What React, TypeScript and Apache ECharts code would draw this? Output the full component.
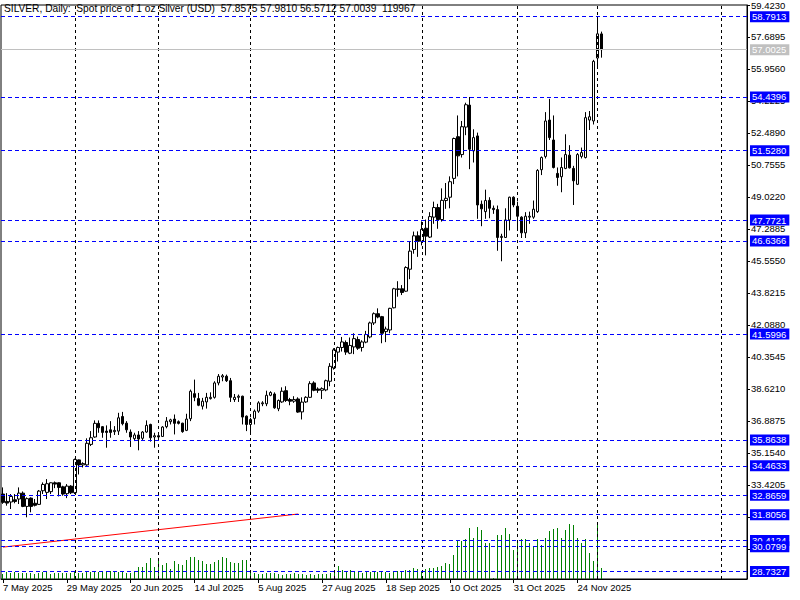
import React, { useEffect, useRef } from 'react';
import * as echarts from 'echarts';

const FONT = '"Liberation Sans", Arial, sans-serif';
const FS = 9.5;

// Daily OHLC (bars from 7 May 2025 to 2 Dec 2025)
const opens = [
  32.93, 32.53, 32.50, 32.62, 32.66, 32.98, 32.26, 32.71, 32.43, 32.37,
  33.11, 33.02, 33.06, 33.54, 33.54, 33.32, 32.95, 33.36, 33.00, 34.78,
  34.51, 34.51, 35.62, 36.02, 36.76, 36.58, 36.34, 36.41, 36.31, 36.34,
  37.13, 36.77, 36.29, 35.93, 36.13, 35.95, 36.29, 36.70, 36.02, 36.09,
  36.05, 36.58, 36.85, 36.99, 36.85, 36.77, 36.38, 37.01, 38.37, 38.10,
  37.69, 37.92, 38.10, 38.17, 38.95, 39.27, 39.31, 39.07, 38.05, 38.17,
  38.23, 37.15, 36.70, 37.03, 37.42, 37.82, 37.82, 38.28, 38.35, 37.55,
  37.92, 38.53, 38.05, 37.96, 38.08, 37.38, 37.92, 38.17, 38.95, 38.62,
  38.55, 38.57, 39.04, 39.76, 40.62, 40.87, 41.14, 40.56, 40.90, 41.30,
  40.87, 41.16, 41.44, 42.20, 42.70, 42.54, 41.73, 41.82, 43.02, 44.01,
  44.05, 43.92, 45.11, 46.18, 46.92, 46.62, 47.33, 46.85, 47.93, 48.45,
  47.80, 48.83, 49.01, 50.03, 52.29, 51.32, 52.81, 54.00, 51.52, 52.33,
  48.63, 48.23, 48.84, 48.41, 48.34, 46.83, 46.83, 47.78, 49.01, 48.52,
  47.93, 47.08, 47.93, 47.93, 48.23, 50.50, 51.22, 53.19, 52.11, 50.30,
  50.12, 50.57, 51.29, 50.57, 49.71, 51.22, 51.16, 53.19, 53.14, 56.55,
  57.8575,
];
const highs = [
  33.29, 32.98, 32.93, 32.93, 33.29, 33.07, 32.75, 32.75, 32.66, 33.15,
  33.56, 33.74, 33.56, 33.61, 33.56, 33.38, 33.47, 33.41, 34.85, 34.80,
  34.65, 35.95, 36.34, 36.92, 36.92, 36.61, 36.65, 36.88, 36.61, 37.33,
  37.38, 36.88, 36.43, 36.25, 36.34, 36.34, 36.92, 36.74, 36.25, 36.25,
  36.61, 37.10, 37.01, 37.24, 36.92, 36.79, 37.28, 38.59, 39.13, 38.41,
  38.14, 38.41, 38.44, 39.04, 39.43, 39.43, 39.40, 39.22, 38.35, 38.32,
  38.26, 37.19, 37.06, 37.51, 37.96, 37.96, 38.53, 38.50, 38.44, 38.05,
  38.71, 38.77, 38.14, 38.23, 38.17, 38.17, 38.23, 39.04, 39.04, 38.71,
  38.71, 39.13, 40.02, 40.83, 40.92, 41.44, 41.25, 41.41, 41.64, 41.46,
  41.26, 41.77, 42.27, 42.77, 42.99, 42.58, 42.00, 43.02, 44.10, 44.46,
  44.25, 45.27, 46.60, 47.15, 47.16, 47.70, 47.80, 48.20, 48.77, 48.65,
  49.49, 49.78, 50.14, 52.24, 53.44, 53.14, 54.13, 54.44, 52.69, 52.51,
  48.83, 49.42, 49.01, 48.56, 48.56, 47.03, 48.41, 49.04, 49.06, 48.77,
  47.98, 48.20, 48.23, 48.83, 50.53, 51.22, 53.62, 54.34, 53.44, 50.62,
  51.16, 52.42, 51.83, 50.71, 51.40, 51.70, 53.62, 53.68, 56.45, 58.82,
  57.9810,
];
const lows = [
  32.40, 32.30, 32.12, 32.43, 32.39, 32.22, 31.67, 31.94, 32.26, 32.35,
  32.93, 32.66, 32.93, 33.25, 32.80, 32.84, 32.71, 32.93, 32.93, 33.99,
  34.37, 34.46, 35.53, 35.98, 36.25, 35.98, 35.44, 35.98, 36.13, 36.13,
  36.65, 36.25, 35.48, 35.80, 35.30, 35.86, 36.25, 35.77, 35.44, 35.84,
  36.02, 36.49, 36.70, 36.16, 36.70, 36.25, 36.34, 36.88, 37.96, 37.69,
  37.51, 37.56, 38.05, 38.10, 38.82, 39.04, 39.00, 37.92, 37.92, 37.92,
  36.70, 36.34, 36.20, 36.70, 37.33, 37.69, 37.69, 38.23, 37.55, 37.42,
  37.87, 37.92, 37.74, 37.87, 37.33, 36.97, 37.87, 38.14, 38.50, 38.41,
  38.08, 38.50, 38.77, 39.67, 40.11, 40.65, 40.47, 40.51, 40.51, 40.74,
  40.65, 41.10, 41.37, 42.09, 42.45, 41.10, 41.16, 41.64, 42.99, 43.62,
  43.71, 43.89, 44.57, 45.95, 45.78, 46.40, 45.86, 46.80, 47.57, 47.30,
  47.69, 48.38, 48.41, 49.72, 50.14, 51.16, 52.37, 50.53, 50.89, 47.84,
  47.44, 47.84, 47.87, 48.11, 46.11, 45.54, 46.80, 47.21, 48.47, 47.21,
  46.80, 46.80, 47.57, 47.84, 48.16, 50.21, 51.11, 52.11, 50.57, 49.63,
  49.28, 50.53, 50.57, 48.59, 49.67, 51.11, 51.11, 52.65, 52.95, 56.10,
  56.5712,
];
const closes = [
  32.48, 32.44, 32.80, 32.53, 32.98, 32.26, 32.68, 32.26, 32.32, 33.09,
  33.45, 33.49, 33.54, 33.47, 33.29, 32.93, 33.36, 33.00, 34.80, 34.51,
  34.58, 35.68, 35.98, 36.76, 36.52, 36.27, 36.27, 36.27, 36.38, 37.06,
  36.74, 36.41, 36.02, 36.13, 35.91, 36.29, 36.65, 35.98, 36.09, 36.02,
  36.56, 36.88, 36.95, 36.76, 36.76, 36.31, 36.99, 38.50, 38.17, 37.74,
  37.96, 38.17, 38.17, 38.95, 39.31, 39.34, 39.07, 38.17, 38.17, 38.23,
  37.10, 36.70, 36.97, 37.42, 37.87, 37.87, 38.28, 38.43, 37.60, 38.00,
  38.50, 38.00, 37.96, 38.05, 37.37, 37.91, 38.17, 38.91, 38.55, 38.55,
  38.64, 39.07, 39.85, 40.74, 40.87, 41.17, 40.62, 40.98, 41.35, 40.83,
  41.17, 41.57, 42.20, 42.70, 42.52, 41.64, 41.87, 42.99, 44.05, 44.05,
  43.85, 45.20, 46.09, 46.92, 46.62, 47.27, 46.90, 47.96, 48.45, 47.80,
  48.84, 48.95, 49.85, 52.19, 51.25, 52.83, 54.02, 51.61, 52.24, 48.59,
  48.38, 48.83, 48.41, 48.34, 46.83, 46.89, 47.78, 49.01, 48.59, 47.98,
  47.08, 47.98, 47.98, 48.36, 50.46, 51.16, 53.14, 52.24, 50.62, 50.08,
  50.62, 51.32, 50.60, 49.90, 51.32, 51.43, 53.32, 53.37, 56.37, 57.86,
  57.0039,
];
// Tick volume
const volumes = [
  56000, 82000, 71000, 82000, 64000, 71000, 64000, 71000, 56000, 71000,
  82000, 93000, 56000, 64000, 64000, 71000, 71000, 71000, 82000, 71000,
  71000, 93000, 82000, 82000, 82000, 93000, 82000, 93000, 82000, 82000,
  82000, 64000, 64000, 93000, 131000, 138000, 183000, 232000, 138000, 213000,
  157000, 183000, 109000, 202000, 168000, 157000, 213000, 243000, 250000, 213000,
  202000, 168000, 168000, 194000, 213000, 250000, 232000, 194000, 183000, 176000,
  213000, 213000, 101000, 64000, 56000, 56000, 64000, 71000, 64000, 56000,
  45000, 56000, 56000, 64000, 56000, 56000, 48000, 56000, 45000, 56000,
  56000, 59000, 71000, 82000, 146000, 101000, 93000, 97000, 90000, 93000,
  71000, 78000, 82000, 75000, 82000, 90000, 78000, 67000, 82000, 90000,
  90000, 97000, 101000, 120000, 109000, 82000, 109000, 123000, 120000, 131000,
  146000, 183000, 168000, 269000, 429000, 429000, 445000, 571000, 456000, 582000,
  557000, 407000, 407000, 11000, 493000, 501000, 571000, 504000, 325000, 437000,
  445000, 445000, 400000, 355000, 445000, 381000, 459000, 538000, 560000, 579000,
  467000, 549000, 616000, 605000, 456000, 400000, 445000, 288000, 202000, 638000,
  119967,
];

// Price-axis ticks and the labels that are not covered by level boxes
const priceTicks = [
  59.423, 57.6895, 55.956, 54.2225, 52.489, 50.7555, 49.022, 47.2885, 45.555,
  43.8215, 42.088, 40.3545, 38.621, 36.8875, 35.154, 33.4205, 31.687, 29.9535,
];
const priceTickLabels = [
  59.423, 57.6895, 55.956, 54.2225, 52.489, 50.7555, 49.022, 47.2885, 45.555,
  43.8215, 42.088, 40.3545, 38.621, 36.8875, 35.154, 33.4205,
];
// Horizontal level lines (blue) and current bid line (grey)
const levelPrices = [
  58.7913, 54.4396, 51.528, 47.7721, 46.6366, 41.5996, 35.8638, 34.4633,
  32.8659, 31.8056, 30.4124, 30.0799, 28.7327,
];
const bidPrice = 57.0025;
// Vertical separators (month starts)
const separatorDates = [
  '2 Jun 2025', '1 Jul 2025', '1 Aug 2025', '1 Sep 2025', '1 Oct 2025',
  '3 Nov 2025', '1 Dec 2025', '13 Jan 2026',
];
// Red trend line: [bar index, price]
const trendLine = [
  [0, 30.055],
  [74, 31.85],
];

const MONTHS = ['Jan', 'Feb', 'Mar', 'Apr', 'May', 'Jun', 'Jul', 'Aug', 'Sep', 'Oct', 'Nov', 'Dec'];
const TOTAL_SLOTS = 187;
function buildDates(): string[] {
  const out: string[] = [];
  const d = new Date(Date.UTC(2025, 4, 7));
  while (out.length < TOTAL_SLOTS) {
    const wd = d.getUTCDay();
    const extraSunday = d.getUTCFullYear() === 2025 && d.getUTCMonth() === 9 && d.getUTCDate() === 26;
    if ((wd !== 0 && wd !== 6) || extraSunday) {
      out.push(`${d.getUTCDate()} ${MONTHS[d.getUTCMonth()]} ${d.getUTCFullYear()}`);
    }
    d.setUTCDate(d.getUTCDate() + 1);
  }
  return out;
}
const categories = buildDates();

export default function App() {
  const ref = useRef<HTMLDivElement>(null);
  useEffect(() => {
    if (!ref.current) return;
    const chart = echarts.init(ref.current, undefined, { renderer: 'svg' });
    const n = opens.length;
    const last = n - 1;
    const candleData = opens.map((o, i) => [o, closes[i], lows[i], highs[i]]);
    const volumeData = volumes.map((v, i) => [i, v]);
    const SP2 = ' \u00a0';
    const header =
      `SILVER, Daily:${SP2}Spot price of 1 oz Silver (USD)${SP2}${opens[last].toFixed(4)} ${highs[last].toFixed(4)} ` +
      `${lows[last].toFixed(4)} ${closes[last].toFixed(4)}${SP2}${volumes[last]}`;
    const showIdx = (index: number) => index % 16 === 0 && index < n;

    const levelLabel = (p: number, bg: string) => ({
      show: true,
      position: 'end',
      distance: 3,
      formatter: () => p.toFixed(4),
      backgroundColor: bg,
      color: '#ffffff',
      padding: [1, 3, 0, 2],
      fontSize: FS,
      fontFamily: FONT,
    });
    const levelLines = levelPrices.map((p) => ({
      yAxis: p,
      lineStyle: { color: '#0000ff', type: [4, 3], width: 1 },
      label: levelLabel(p, '#0000ff'),
    }));
    const bidLine = {
      yAxis: bidPrice,
      lineStyle: { color: '#c0c0c0', type: 'solid', width: 1 },
      label: levelLabel(bidPrice, '#c0c0c0'),
    };
    const sepLines = separatorDates.map((d) => ({
      xAxis: d,
      lineStyle: { color: '#000000', type: [3, 3], width: 1 },
      label: { show: false },
    }));

    chart.setOption({
      animation: false,
      backgroundColor: '#ffffff',
      title: {
        text: header,
        left: 4,
        top: 3,
        padding: 0,
        textStyle: { fontSize: 10.2, fontWeight: 'normal', color: '#000', fontFamily: FONT },
      },
      grid: {
        left: 1,
        right: 53,
        top: 2,
        bottom: 21,
        show: true,
        borderColor: '#000',
        borderWidth: 1,
        backgroundColor: '#fff',
      },
      xAxis: {
        type: 'category',
        data: categories,
        boundaryGap: true,
        axisLine: { show: true, lineStyle: { color: '#000', width: 1 } },
        axisTick: {
          show: true,
          alignWithLabel: true,
          length: 4,
          interval: (i: number) => showIdx(i),
          lineStyle: { color: '#000' },
        },
        axisLabel: {
          interval: (i: number) => showIdx(i),
          align: 'left',
          margin: 3,
          fontSize: FS,
          color: '#000',
          fontFamily: FONT,
        },
        splitLine: { show: false },
      },
      yAxis: [
        {
          type: 'value',
          position: 'right',
          min: 28.328,
          max: 59.423,
          axisLine: { show: true, lineStyle: { color: '#000' } },
          axisTick: { show: true, length: 3, customValues: priceTicks, lineStyle: { color: '#000' } },
          axisLabel: {
            customValues: priceTickLabels,
            formatter: (v: number) => v.toFixed(4),
            color: '#000',
            fontSize: FS,
            fontFamily: FONT,
            margin: 4,
          },
          splitLine: { show: false },
        },
        {
          type: 'value',
          min: 0,
          max: 6462400,
          show: false,
          splitLine: { show: false },
        },
      ],
      series: [
        {
          type: 'custom',
          name: 'Volume',
          yAxisIndex: 1,
          data: volumeData,
          encode: { x: 0, y: 1 },
          silent: true,
          z: 1,
          renderItem: (params: any, api: any) => {
            const idx = api.value(0);
            const v = api.value(1);
            const top = api.coord([idx, v]);
            const base = api.coord([idx, 0]);
            const x = Math.round(top[0] - 0.5) + 0.5;
            const y0 = Math.round(top[1]);
            const y1 = Math.round(base[1]);
            return {
              type: 'line',
              shape: { x1: x, y1: y0, x2: x, y2: Math.max(y0 + 1, y1) },
              style: { stroke: '#008000', lineWidth: 1, lineCap: 'butt' },
            };
          },
        },
        {
          type: 'line',
          name: 'Trend',
          data: trendLine,
          symbol: 'none',
          lineStyle: { color: '#ff0000', width: 1 },
          silent: true,
          z: 2,
        },
        {
          type: 'candlestick',
          name: 'SILVER',
          data: candleData,
          barWidth: 3,
          itemStyle: {
            color: '#ffffff',
            color0: '#000000',
            borderColor: '#000000',
            borderColor0: '#000000',
            borderWidth: 1,
          },
          z: 3,
          markLine: {
            symbol: ['none', 'none'],
            silent: true,
            animation: false,
            data: [...sepLines, ...levelLines, bidLine],
          },
        },
      ],
    });
    return () => chart.dispose();
  }, []);
  return (
    <div
      ref={ref}
      style={{ position: 'fixed', left: 0, top: 0, width: 800, height: 600, background: '#fff' }}
    />
  );
}
